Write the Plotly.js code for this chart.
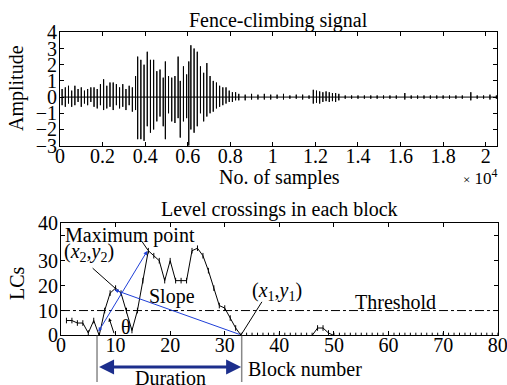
<!DOCTYPE html>
<html>
<head>
<meta charset="utf-8">
<script src="https://cdn.plot.ly/plotly-3.0.1.min.js"></script>
<style>html,body{margin:0;padding:0;background:#fff;}#chart{width:507px;height:385px;}</style>
</head>
<body>
<div id="chart"></div>
<script>
// ---- Top panel: fence-climbing signal (spike positions and peak/trough values)
const sigX = [100,250,400,550,700,850,1000,1150,1300,1450,1600,1750,1900,2050,2200,2350,2500,2650,2800,2950,
  3100,3250,3400,3550,3650,3800,3950,4100,4250,4400,4550,4700,4850,4950,5100,5250,5400,5550,5650,5800,
  5950,6050,6150,6300,6450,6600,6750,6900,7050,7200,7350,7500,7650,7800,7950,8100,8250,
  8400,8700,9000,9300,9600,9900,10200,10500,10800,11100,11400,11700,11900,12050,12200,12350,12500,12650,12800,12950,
  13100,13400,13700,14000,14300,14600,14900,15200,15500,15800,16200,16500,16800,17100,17400,17700,18000,18300,18600,18900,
  19300,19600,19900,20200,20500];
const sigHi = [0.5,0.6,0.7,0.4,0.7,0.5,0.6,0.4,0.5,0.6,0.6,0.5,0.8,1.1,0.7,0.9,0.9,0.8,0.6,0.8,
  0.5,0.7,0.6,1.3,2.5,2.3,2.0,2.8,2.3,2.3,1.6,1.7,1.2,2.2,1.3,1.2,1.3,2.5,1.0,1.9,
  1.4,2.2,3.2,3.0,2.8,1.9,1.5,2.1,1.3,1.0,0.9,0.7,0.6,0.6,0.4,0.3,0.3,
  0.2,0.15,0.2,0.15,0.2,0.15,0.15,0.2,0.1,0.15,0.15,0.1,0.45,0.4,0.35,0.3,0.35,0.3,0.25,0.25,
  0.2,0.1,0.1,0.1,0.1,0.1,0.1,0.1,0.1,0.1,0.25,0.1,0.1,0.1,0.1,0.1,0.1,0.1,0.1,0.1,
  0.3,0.1,0.1,0.15,0.1];
const sigLo = [-0.5,-0.6,-0.4,-0.6,-0.5,-0.3,-0.6,-0.4,-0.5,-0.3,-0.6,-0.7,-0.5,-0.8,-0.7,-0.6,-0.8,-0.5,-0.7,-0.6,
  -0.8,-0.5,-0.9,-0.8,-2.6,-2.6,-2.7,-1.8,-2.2,-2.0,-1.5,-1.2,-1.8,-2.6,-1.0,-1.5,-1.6,-1.3,-2.5,-1.5,
  -1.3,-3.0,-2.0,-2.2,-1.8,-1.0,-1.5,-1.2,-1.0,-0.9,-0.7,-0.6,-0.5,-0.4,-0.3,-0.3,-0.2,
  -0.2,-0.2,-0.15,-0.15,-0.15,-0.15,-0.1,-0.15,-0.1,-0.1,-0.15,-0.1,-0.4,-0.35,-0.4,-0.3,-0.25,-0.3,-0.25,-0.3,
  -0.2,-0.1,-0.1,-0.1,-0.1,-0.1,-0.1,-0.1,-0.1,-0.1,-0.15,-0.1,-0.1,-0.1,-0.1,-0.1,-0.1,-0.1,-0.1,-0.1,
  -0.2,-0.1,-0.1,-0.15,-0.1];
const topTickVals = [0,2000,4000,6000,8000,10000,12000,14000,16000,18000,20000];
const topTickText = ["0","0.2","0.4","0.6","0.8","1","1.2","1.4","1.6","1.8","2"];

// ---- Bottom panel: level crossings per block (blocks 1..80)
const lcValues = [6,6,5,5,1,6,0,10,17,19,17,10,2,10,22,34,32,30,22,30,
  22,22,22,34,35,32,26,19,12,11,7,3,0,0,0,0,0,0,0,0,
  0,0,0,0,0,0,3,3,1,0,0,0,0,0,0,0,0,0,0,0,
  0,0,0,0,0,0,0,0,0,0,0,0,0,0,0,0,0,0,0,0];
const blockNums = lcValues.map((v,i)=>i+1);
const threshold = 10;
const botXTicks = [0,10,20,30,40,50,60,70,80];
const botTickVals = [0,10,20,30,40,45];
const botTickText = ["0","10","20","30","","40"];

const sx=[], sy=[];
for (let i=0;i<sigX.length;i++){
  sx.push(sigX[i],sigX[i],sigX[i],sigX[i]);
  sy.push(0,sigHi[i],sigLo[i],0);
}

const FONT = "'Times New Roman', 'Liberation Serif', Times, serif";
const blue = "#1f3fd8";
const navy = "#1c2e8c";

const traces = [
  {x:sx, y:sy, xaxis:'x', yaxis:'y', mode:'lines', line:{color:'#000', width:1}, hoverinfo:'skip'},
  {x:[0,80], y:[threshold,threshold], xaxis:'x2', yaxis:'y2', mode:'lines',
   line:{color:'#000', width:1, dash:'dashdot'}},
  {x:blockNums, y:lcValues, xaxis:'x2', yaxis:'y2', mode:'lines+markers',
   line:{color:'#000', width:1}, marker:{symbol:'line-ns-open', size:4, color:'#000', line:{width:1,color:'#000'}}}
];

const axBase = {showline:true, mirror:'ticks', linecolor:'#000', linewidth:1, ticks:'inside', ticklen:4,
  tickcolor:'#000', showgrid:false, zeroline:false, tickfont:{family:FONT, size:20, color:'#000'},
  fixedrange:true, ticklabeloverflow:'allow'};

function pa(x, y, text, extra) {
  return Object.assign({xref:'paper', yref:'paper', x:x/507, y:1-y/385, text:text, showarrow:false,
    xanchor:'center', yanchor:'middle', font:{size:20}}, extra || {});
}

const layout = {
  width:507, height:385, margin:{l:0,r:0,t:0,b:0}, showlegend:false,
  paper_bgcolor:'#fff', plot_bgcolor:'#fff',
  font:{family:FONT, size:20, color:'#000'},
  xaxis:Object.assign({}, axBase, {domain:[0.1183,0.9809], range:[0,20545], anchor:'y',
    tickmode:'array', tickvals:topTickVals, ticktext:topTickText, ticklabelstandoff:-8}),
  yaxis:Object.assign({}, axBase, {domain:[0.6216,0.9161], range:[-3,4], anchor:'x',
    tickmode:'array', tickvals:[-3,-2,-1,0,1,2,3,4], ticktext:["\u22123","\u22122","\u22121","0","1","2","3","4"], ticklabelstandoff:-2}),
  xaxis2:Object.assign({}, axBase, {domain:[0.1203,0.9817], range:[0,80], anchor:'y2',
    tickmode:'array', tickvals:botXTicks, ticktext:botXTicks.map(String), ticklabelstandoff:-8}),
  yaxis2:Object.assign({}, axBase, {domain:[0.1286,0.42], range:[0,45], anchor:'x2',
    tickmode:'array', tickvals:botTickVals, ticktext:botTickText, ticklabelstandoff:-2}),
  shapes:[
    {type:'line', xref:'x2', yref:'y2', x0:14.9, y0:37.5, x1:15.9, y1:34.3, line:{color:'#000', width:1}},
    {type:'line', xref:'x2', yref:'y2', x0:5.8, y0:27, x1:9.9, y1:19, line:{color:'#000', width:1}},
    {type:'line', xref:'x2', yref:'y2', x0:36.8, y0:13.5, x1:33, y1:0.3, line:{color:'#000', width:1}},
    {type:'line', xref:'x2', yref:'paper', x0:6.6, y0:0.128, x1:6.6, y1:0.008, line:{color:'#888', width:1.5}},
    {type:'line', xref:'x2', yref:'paper', x0:33.1, y0:0.128, x1:33.1, y1:0.008, line:{color:'#888', width:1.5}}
  ],
  annotations:[
    pa(278, 20, 'Fence-climbing signal'),
    pa(279, 178, 'No. of samples'),
    pa(480, 177, '<span style="font-size:13px">\u00d7</span> 10<sup>4</sup>', {font:{size:17}}),
    pa(17, 88, 'Amplitude', {textangle:-90}),
    pa(279, 210, 'Level crossings in each block'),
    pa(17, 283, 'LCs', {textangle:-90}),
    pa(305, 369, 'Block number'),
    pa(170, 378, 'Duration'),
    {xref:'x2', yref:'y2', x:12.7, y:40.3, text:'Maximum point', showarrow:false, font:{size:20}},
    {xref:'x2', yref:'y2', x:5.2, y:33.1, text:'(<i>x</i><sub>2</sub>,<i>y</i><sub>2</sub>)', showarrow:false, font:{size:20}},
    {xref:'x2', yref:'y2', x:20.3, y:15.5, text:'Slope', showarrow:false, font:{size:20}},
    {xref:'x2', yref:'y2', x:39.6, y:17.5, text:'(<i>x</i><sub>1</sub>,<i>y</i><sub>1</sub>)', showarrow:false, font:{size:20}},
    {xref:'x2', yref:'y2', x:11.9, y:3.5, text:'\u03b8', showarrow:false, font:{size:20}},
    {xref:'x2', yref:'y2', x:61.3, y:13.6, text:'Threshold', showarrow:false, font:{size:20}},
    {xref:'x2', yref:'y2', axref:'x2', ayref:'y2', x:15.8, y:33.9, ax:6.7, ay:1, text:'', showarrow:true,
     arrowhead:2, startarrowhead:2, arrowside:'end+start', arrowsize:0.8, startarrowsize:0.8, arrowwidth:1, arrowcolor:blue},
    {xref:'x2', yref:'y2', axref:'x2', ayref:'y2', x:9.8, y:18.3, ax:33, ay:0.2, text:'', showarrow:true,
     arrowhead:2, arrowsize:0.8, arrowwidth:1, arrowcolor:blue},
    {xref:'x2', yref:'y2', axref:'x2', ayref:'y2', x:8.8, y:7, ax:9.8, ay:0.3, text:'', showarrow:true,
     arrowhead:2, arrowsize:0.7, arrowwidth:1, arrowcolor:'#000'},
    {xref:'x2', yref:'paper', axref:'x2', ayref:'paper', x:33.0, y:1-367/385, ax:6.7, ay:1-367/385, text:'', showarrow:true,
     arrowhead:2, startarrowhead:2, arrowside:'end+start', arrowsize:1, startarrowsize:1, arrowwidth:3, arrowcolor:navy}
  ]
};

Plotly.newPlot('chart', traces, layout, {staticPlot:true, displayModeBar:false});
</script>
</body>
</html>
